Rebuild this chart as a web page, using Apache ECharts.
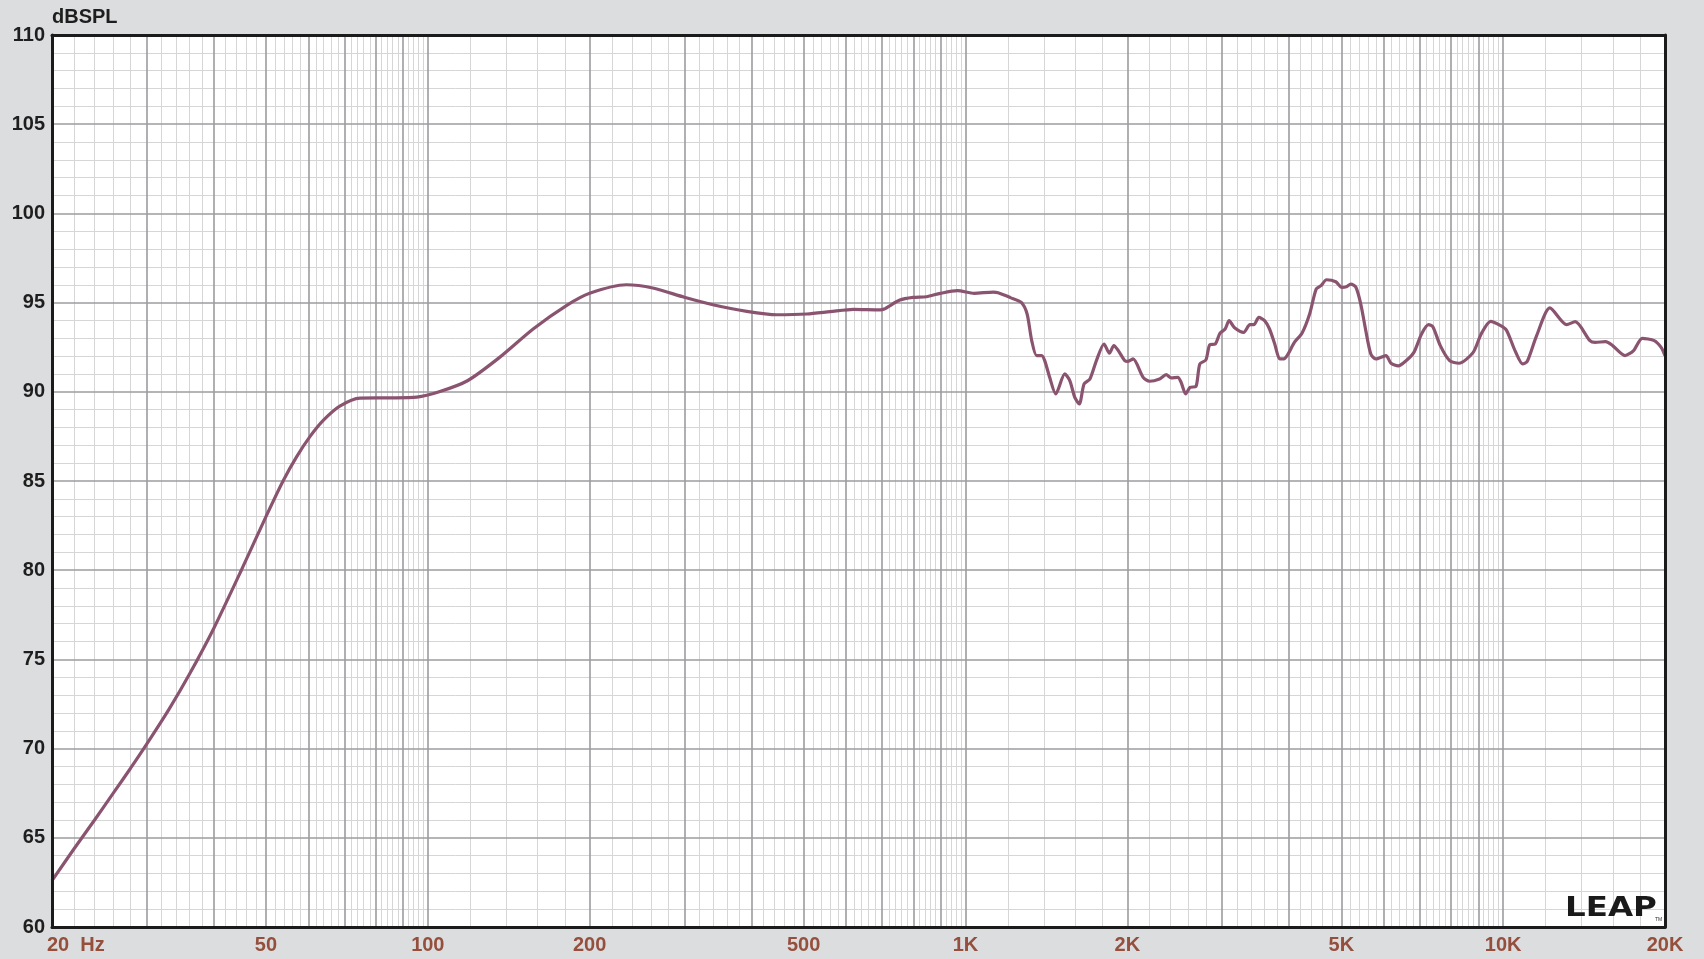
<!DOCTYPE html>
<html><head><meta charset="utf-8">
<script src="https://cdn.jsdelivr.net/npm/echarts@6/dist/echarts.min.js"></script>
<style>html,body{margin:0;padding:0;background:#dcdddf;}#c{width:1704px;height:959px;}</style>
</head><body><div id="c"></div>
<script>
// Frequency response (Hz, dB SPL)
const freqHz = [20,22,24,26,28,30,33,36,40,45,50,53.8,57,60.4,63.9,68.6,74.8,85,95.4,105,118.5,136,157,181,200,234,262,300,339,392,446,507,560,619,694,706,755,799,846,898,966,1038,1127,1150,1212,1270,1302,1328,1356,1386,1404,1434,1472,1530,1563,1597,1628,1662,1704,1752,1810,1852,1888,1924,1978,2006,2050,2140,2200,2296,2362,2413,2482,2518,2568,2616,2682,2728,2800,2847,2914,2973,3040,3093,3162,3292,3380,3438,3512,3600,3677,3760,3842,3909,3982,4090,4225,4366,4490,4585,4693,4883,5012,5111,5208,5320,5435,5553,5674,5796,6054,6186,6382,6605,6824,7051,7265,7400,7640,7951,8275,8796,9102,9478,9854,10140,10520,10870,11090,11542,12218,13124,13617,14499,14830,15510,15980,16850,17480,18140,19100,19670,20000];
const splDb = [62.6,64.4,66.0,67.5,68.9,70.25,72.2,74.15,76.75,80.0,83.0,85.0,86.35,87.5,88.4,89.2,89.65,89.66,89.7,90.0,90.62,91.93,93.52,94.83,95.52,96.0,95.82,95.3,94.88,94.51,94.32,94.36,94.49,94.62,94.59,94.64,95.14,95.29,95.33,95.52,95.67,95.52,95.59,95.55,95.28,95.01,94.36,92.87,92.03,92.03,91.75,90.81,89.88,91.0,90.63,89.69,89.32,90.44,90.72,91.75,92.68,92.16,92.59,92.31,91.75,91.71,91.84,90.81,90.59,90.72,90.96,90.78,90.81,90.53,89.88,90.25,90.29,91.56,91.79,92.64,92.68,93.28,93.52,93.99,93.61,93.33,93.76,93.76,94.17,93.99,93.52,92.68,91.84,91.84,92.12,92.77,93.28,94.36,95.76,95.95,96.28,96.17,95.85,95.89,96.04,95.87,94.92,93.43,92.12,91.84,92.03,91.6,91.45,91.75,92.21,93.24,93.76,93.65,92.59,91.75,91.6,92.21,93.24,93.95,93.74,93.46,92.31,91.56,91.71,93.15,94.7,93.76,93.93,92.87,92.77,92.81,92.59,92.03,92.31,93.0,92.87,92.49,92.03];

// Axis ticks / labels
const xMin = 20, xMax = 20000;
const xTickValues = [20,50,100,200,500,1000,2000,5000,10000,20000];
const xTickLabels = ['20  Hz','50','100','200','500','1K','2K','5K','10K','20K'];
const yMin = 60, yMax = 110, yStep = 5;
const yTitle = 'dBSPL';

// Grid-line positions (log-paper style)
const decadeSteps = [[20,100,2],[100,1000,20],[1000,10000,200],[10000,20000,2000]];
const majorX = [], minorX = [];
decadeSteps.forEach(([a,b,s]) => {
  for (let v = a + s; v < b + 1e-9; v += s) {
    const vv = Math.round(v);
    if (vv >= xMax) continue;
    if (vv % (s * 5) === 0) majorX.push(vv); else minorX.push(vv);
  }
});
const majorY = [], minorY = [];
for (let v = yMin + 1; v < yMax; v++) { if (v % yStep === 0) majorY.push(v); else minorY.push(v); }

const data = freqHz.map((f, i) => [f, splDb[i]]);
const chart = echarts.init(document.getElementById('c'), null, {renderer: 'canvas'});
const FONT = 'Liberation Sans, Arial, sans-serif';

const gridLineSeries = (name, xs, ys, color, width, z) => ({
  name, type: 'line', data: [], z, silent: true,
  markLine: {
    z, silent: true, symbol: ['none','none'], animation: false,
    label: {show: false}, emphasis: {disabled: true},
    lineStyle: {color, width, type: 'solid'},
    data: xs.map(v => ({xAxis: v})).concat(ys.map(v => ({yAxis: v})))
  }
});

chart.setOption({
  animation: false,
  backgroundColor: '#dcdddf',
  grid: {left: 52, right: 39, top: 35, bottom: 32, show: true, backgroundColor: '#ffffff', borderWidth: 0},
  xAxis: [
    {type: 'log', logBase: 10, min: xMin, max: xMax, position: 'bottom', z: 12,
     axisLine: {show: true, onZero: false, lineStyle: {color: '#1b1b1b', width: 3}},
     axisTick: {show: false}, axisLabel: {show: false}, splitLine: {show: false}, minorSplitLine: {show: false}},
    {type: 'log', logBase: 10, min: xMin, max: xMax, position: 'top', z: 12,
     axisLine: {show: true, onZero: false, lineStyle: {color: '#1b1b1b', width: 3}},
     axisTick: {show: false}, axisLabel: {show: false}, splitLine: {show: false}}
  ],
  yAxis: [
    {type: 'value', min: yMin, max: yMax, interval: yStep, position: 'left', z: 12,
     axisLine: {show: true, onZero: false, lineStyle: {color: '#1b1b1b', width: 3}},
     axisTick: {show: false}, splitLine: {show: false},
     axisLabel: {show: true, margin: 7, color: '#1e1e1e', fontSize: 20, fontWeight: 'bold', fontFamily: FONT}},
    {type: 'value', min: yMin, max: yMax, interval: yStep, position: 'right', z: 12,
     axisLine: {show: true, onZero: false, lineStyle: {color: '#1b1b1b', width: 3}},
     axisTick: {show: false}, splitLine: {show: false}, axisLabel: {show: false}}
  ],
  series: [
    gridLineSeries('minorGrid', minorX, minorY, '#d6d6d6', 1, 1),
    gridLineSeries('majorGrid', majorX, majorY, '#9c9ca0', 1.6, 2),
    {name: 'SPL', type: 'line', data, z: 10, showSymbol: false, smooth: 0.25,
     lineStyle: {color: '#8a5470', width: 3.2}, itemStyle: {color: '#8a5470'}}
  ]
});

// Axis labels and decorations positioned through the chart's own scales
const g = [];
const bottomY = chart.convertToPixel({yAxisIndex: 0}, yMin);
const topY = chart.convertToPixel({yAxisIndex: 0}, yMax);
xTickValues.forEach((v, i) => {
  const px = chart.convertToPixel({xAxisIndex: 0}, v);
  const first = i === 0;
  g.push({type: 'text', x: first ? px - 5 : px, y: bottomY + 18, silent: true,
    style: {text: xTickLabels[i], fill: '#954f3d', font: 'bold 20px ' + FONT,
      textAlign: first ? 'left' : 'center', textVerticalAlign: 'middle'}});
});
const leftX = chart.convertToPixel({xAxisIndex: 0}, xMin);
const rightX = chart.convertToPixel({xAxisIndex: 0}, xMax);
g.push({type: 'text', x: leftX, y: topY - 18, silent: true,
  style: {text: yTitle, fill: '#1e1e1e', font: 'bold 20px ' + FONT, textAlign: 'left', textVerticalAlign: 'middle'}});
g.push({type: 'text', x: rightX - 100, y: bottomY - 5, scaleX: 1.25, silent: true, z: 11,
  style: {text: 'LEAP', fill: '#1a1a1a', font: 'bold 26px DejaVu Sans, sans-serif', textAlign: 'left', textVerticalAlign: 'bottom'}});
g.push({type: 'text', x: rightX - 10, y: bottomY - 5, silent: true, z: 11,
  style: {text: 'TM', fill: '#333', font: '5px ' + FONT, textAlign: 'left', textVerticalAlign: 'bottom'}});
chart.setOption({graphic: g});
</script>
</body></html>
